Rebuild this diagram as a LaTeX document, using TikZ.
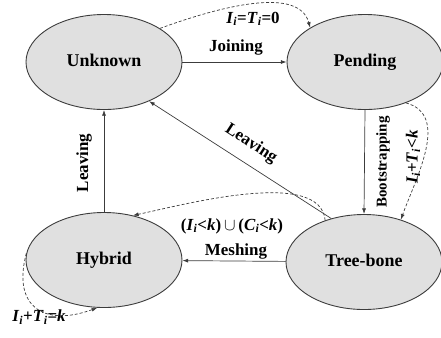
\documentclass[tikz,border=0pt]{standalone}
\usepackage{fontspec}
\setmainfont{Liberation Serif}
\usetikzlibrary{shapes.geometric,arrows.meta,positioning}
\definecolor{stfill}{RGB}{224,224,224}
\definecolor{stline}{RGB}{60,60,60}
\tikzset{
  st/.style={ellipse, draw=stline, line width=0.9pt, fill=stfill, inner sep=0pt,
             minimum width=156bp, minimum height=95bp, text depth=0.25em,
             font=\fontsize{18}{20}\selectfont\bfseries},
  ed/.style={-{Latex[length=2mm,width=1.4mm]}, line width=0.7pt, draw=stline},
  edn/.style={ed, dash pattern=on 3pt off 2pt},
  lab/.style={inner sep=1pt, font=\fontsize{17}{19}\selectfont\bfseries}
}
\newcommand{\vsub}[2]{\textit{#1}\textsubscript{\textit{#2}}}

\begin{document}
\begin{tikzpicture}[x=1bp,y=1bp]
\useasboundingbox (0,0) rectangle (441,-337);
\node[st] (U) at (104,-62)  {Unknown};
\node[st] (P) at (365,-62)  {Pending};
\node[st] (H) at (104,-260) {Hybrid};
\node[st] (T) at (364,-262) {Tree-bone};
% solid transitions
\draw[ed] (U) -- (P);
\draw[ed] (P.south) -- (T.north);
\draw[ed] (T) -- (H);
\draw[ed] (H) -- (U);
\draw[ed] (T.127) -- (U.-41);
% dashed conditions
\draw[edn] (U.31) to[out=20,in=105,looseness=0.8] (P.148);
\draw[edn] (P.-45) to[out=-15,in=70] (T.49);
\draw[edn] (T.133) to[out=95,in=12,looseness=0.7] (H.57);
\draw[edn] (H.175) to[out=255,in=200,looseness=1.6] (H.262);
% labels
\node[lab] (lj) at (236,-47) {Joining};
\node[lab] (lm) at (236,-251) {Meshing};
\node[lab, rotate=90] (lb) at (383,-162) {\fontsize{15}{17}\selectfont Bootstrapping};
\node[lab, rotate=90] (ll) at (84,-163) {Leaving};
\node[lab, rotate=-33] (ld) at (251,-144) {Leaving};
\node[lab] (c1) at (253,-19) {\vsub{I}{i}=\vsub{T}{i}=0};
\node[lab, rotate=90] (c2) at (413,-157) {\vsub{I}{i}+\vsub{T}{i}<\textit{k}};
\node[lab] (c3) at (232,-226) {(\vsub{I}{i}<\textit{k})$\,\cup\,$(\vsub{C}{i}<\textit{k})};
\node[lab] (c4) at (39,-317) {\vsub{I}{i}+\vsub{T}{i}=\textit{k}};
\end{tikzpicture}
\end{document}
